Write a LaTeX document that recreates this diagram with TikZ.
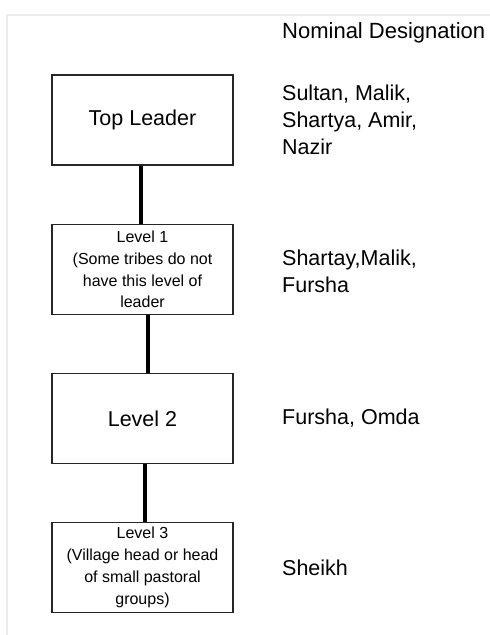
\documentclass[tikz,border=0pt]{standalone}
\usepackage{fontspec}
\setmainfont{Liberation Sans}
\begin{document}
\begin{tikzpicture}[x=1pt,y=-1pt,
  levelbox/.style={draw=black!85, line width=1.3pt, fill=white, minimum width=181pt,
    minimum height=90pt, inner sep=0pt, align=center, text=black},
  bigtext/.style={font=\fontsize{21.5}{27}\selectfont},
  smalltext/.style={font=\fontsize{16}{21.8}\selectfont},
  designation/.style={anchor=west, align=left, inner sep=0pt, text=black,
    font=\fontsize{21.5}{27}\selectfont},
  link/.style={line width=3.2pt, black}]
  % page and light frame
  \useasboundingbox (0,0) rectangle (490,635);
  \fill[white] (0,0) rectangle (490,635);
  \draw[black!8, line width=2pt] (7,635) -- (7,15) -- (490,15);

  % hierarchy boxes
  \node[levelbox, bigtext] (top) at (142.5,120) {Top Leader};
  \node[levelbox, smalltext] (l1) at (142.5,269.5)
    {Level 1\\(Some tribes do not\\have this level of\\leader};
  \node[levelbox, bigtext] (l2) at (142.5,418.5) {Level 2};
  \node[levelbox, smalltext] (l3) at (142.5,567.5)
    {Level 3\\(Village head or head\\of small pastoral\\groups)};

  % connectors
  \draw[link] ([xshift=-1.5pt]top.south) -- ([xshift=-1.5pt]l1.north);
  \draw[link] ([xshift=5.5pt]l1.south) -- ([xshift=5.5pt]l2.north);
  \draw[link] ([xshift=2.5pt]l2.south) -- ([xshift=2.5pt]l3.north);

  % designations column
  \node[designation, font=\fontsize{22}{27}\selectfont] (head) at (282,33) {Nominal Designation};
  \node[designation] (d0) at (282,120) {Sultan, Malik,\\Shartya, Amir,\\Nazir};
  \node[designation] (d1) at (282,271.5) {Shartay,Malik,\\Fursha};
  \node[designation] (d2) at (282,418.5) {Fursha, Omda};
  \node[designation] (d3) at (282,568) {Sheikh};
\end{tikzpicture}
\end{document}
